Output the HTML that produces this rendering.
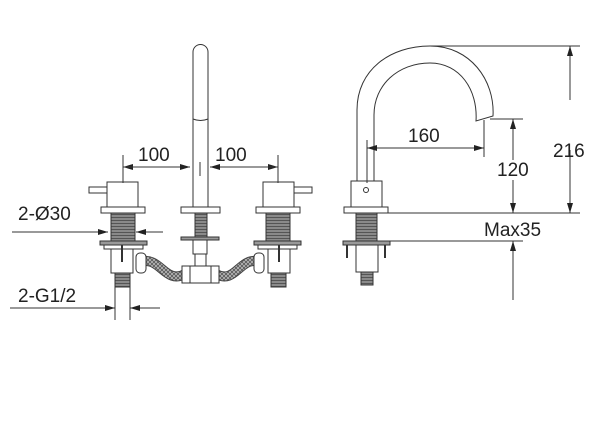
<!DOCTYPE html>
<html><head><meta charset="utf-8"><style>
html,body{margin:0;padding:0;background:#fff}
svg{display:block}
text{font-family:"Liberation Sans",sans-serif;font-size:19px;fill:#222}
</style></head><body>
<svg width="600" height="441" viewBox="0 0 600 441" xmlns="http://www.w3.org/2000/svg">
<defs>
<pattern id="th" width="3" height="3" patternUnits="userSpaceOnUse">
<rect width="3" height="3" fill="#8a8a8a"/><path d="M0 1.5h3" stroke="#555" stroke-width="1"/>
</pattern>
<pattern id="hs" width="4" height="4" patternUnits="userSpaceOnUse">
<rect width="4" height="4" fill="#bbb"/><path d="M0 0L4 4M4 0L0 4" stroke="#555" stroke-width="0.8"/>
</pattern>
<marker id="a" markerWidth="10" markerHeight="6" refX="10" refY="3" orient="auto" markerUnits="userSpaceOnUse">
<path d="M0 0L10 3L0 6z" fill="#222"/></marker>
</defs>
<g stroke="#333" stroke-width="1" fill="#fff">
<path d="M193 208V52a7.5 7.5 0 0 1 15 0V208"/>
<path d="M193 119q7.5 3 15 0"/>
<rect x="181" y="207" width="39" height="6"/>
<rect x="195" y="213" width="12" height="24" fill="url(#th)"/>
<rect x="181" y="237" width="38" height="3" fill="#999"/>
<rect x="193" y="240" width="14" height="14"/>
<rect x="195" y="254" width="11" height="12"/>
<path d="M140 262 C160 255,165 285,185 274" stroke="#444" stroke-width="10" fill="none"/>
<path d="M140 262 C160 255,165 285,185 274" stroke="url(#hs)" stroke-width="8" fill="none"/>
<path d="M216 274 C236 285,240 255,260 262" stroke="#444" stroke-width="10" fill="none"/>
<path d="M216 274 C236 285,240 255,260 262" stroke="url(#hs)" stroke-width="8" fill="none"/>
<rect x="182" y="266" width="37" height="17"/>
<rect x="182" y="266" width="8" height="17"/>
<rect x="211" y="266" width="8" height="17"/>
<rect x="136" y="253" width="10" height="20" rx="4"/>
<rect x="254" y="253" width="10" height="20" rx="4"/>
<rect x="89" y="187" width="19" height="6"/>
<rect x="107" y="182" width="31" height="25"/>
<rect x="101" y="207" width="44" height="6"/>
<rect x="111" y="213" width="24" height="28" fill="url(#th)"/>
<rect x="100" y="241" width="47" height="4" fill="#999"/>
<rect x="104" y="245" width="39" height="4"/>
<rect x="111" y="249" width="22" height="24"/>
<path d="M122 245V262" stroke-width="2"/>
<rect x="115" y="273" width="15" height="14" fill="url(#th)"/>
<rect x="293" y="187" width="19" height="6"/>
<rect x="263" y="182" width="31" height="25"/>
<rect x="256" y="207" width="44" height="6"/>
<rect x="266" y="213" width="24" height="28" fill="url(#th)"/>
<rect x="254" y="241" width="47" height="4" fill="#999"/>
<rect x="258" y="245" width="39" height="4"/>
<rect x="268" y="249" width="22" height="24"/>
<path d="M279 245V262" stroke-width="2"/>
<rect x="271" y="273" width="15" height="14" fill="url(#th)"/>
<path d="M357 183V110C357 70,390 46,430 46C470 46,495 80,493 116L476 121C478 90,460 63,430 63C398 63,374 85,374 115V183"/>
<rect x="351" y="181" width="31" height="27"/>
<circle cx="366" cy="190" r="2.5"/>
<rect x="344" y="207" width="44" height="6"/>
<rect x="356" y="213" width="21" height="28" fill="url(#th)"/>
<rect x="343" y="241" width="47" height="4" fill="#999"/>
<path d="M347 245V258M385 245V258" stroke-width="2"/>
<rect x="356" y="245" width="22" height="27"/>
<rect x="361" y="272" width="12" height="13" fill="url(#th)"/>
</g>
<g stroke="#333" stroke-width="1" fill="none">
<path d="M123 155V183M278 155V183M200 162V176"/>
<path d="M190 167H123" marker-end="url(#a)"/>
<path d="M123 167H190" marker-end="url(#a)"/>
<path d="M210 167H278" marker-end="url(#a)"/>
<path d="M278 167H210" marker-end="url(#a)"/>
<path d="M12 232H108" marker-end="url(#a)"/>
<path d="M163 232H136" marker-end="url(#a)"/>
<path d="M10 308H115" marker-end="url(#a)"/>
<path d="M160 308H130" marker-end="url(#a)"/>
<path d="M115 287V320M130 287V320"/>
<path d="M430 46H580M388 213H580M490 119H523M390 241H523"/>
<path d="M570 100V46" marker-end="url(#a)"/>
<path d="M570 150V213" marker-end="url(#a)"/>
<path d="M513 160V119" marker-end="url(#a)"/>
<path d="M513 180V213" marker-end="url(#a)"/>
<path d="M513 300V241" marker-end="url(#a)"/>
<path d="M367 140V183M484 120V157"/>
<path d="M420 148H367" marker-end="url(#a)"/>
<path d="M420 148H484" marker-end="url(#a)"/>
</g>
<text x="138" y="161">100</text>
<text x="215" y="161">100</text>
<text x="18" y="220">2-Ø30</text>
<text x="18" y="302">2-G1/2</text>
<text x="408" y="142">160</text>
<text x="497" y="176">120</text>
<text x="553" y="157">216</text>
<text x="484" y="236">Max35</text>
</svg>
</body></html>
